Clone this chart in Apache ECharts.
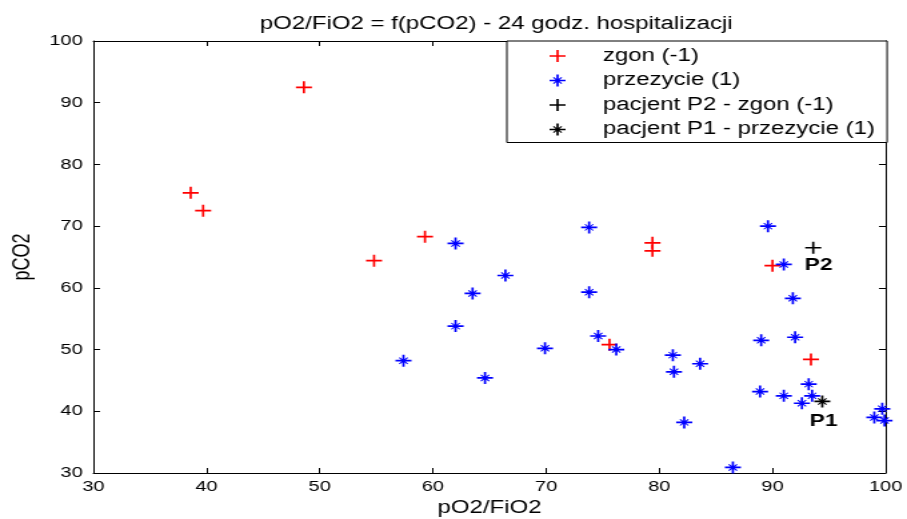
<!DOCTYPE html>
<html><head><meta charset="utf-8">
<script src="https://cdn.jsdelivr.net/npm/echarts@6/dist/echarts.min.js"></script>
<style>
html,body{margin:0;padding:0;background:#fff;overflow:hidden;}
#wrap{width:907px;height:519px;overflow:hidden;}
#chart{width:680px;height:519px;transform:scaleX(1.33382);transform-origin:0 0;}
</style></head><body><div id="wrap"><div id="chart"></div></div>
<script>
// ---- data ----
const axisTicks = [30, 40, 50, 60, 70, 80, 90, 100];
const zgonX = [48.6, 38.6, 39.7, 54.8, 59.3, 79.4, 79.4, 75.6, 90.0, 93.4];
const zgonY = [92.5, 75.4, 72.5, 64.4, 68.3, 67.3, 66.0, 50.8, 63.6, 48.4];
const przezycieX = [62.0, 73.8, 89.6, 66.4, 63.5, 73.8, 91.0, 91.8, 62.0, 74.6, 69.9, 76.2, 92.0, 89.0, 57.4,
                    81.2, 81.3, 83.6, 64.6, 93.2, 88.9, 91.0, 93.5, 92.6, 82.2, 86.5, 99.7, 99.0, 99.9];
const przezycieY = [67.2, 69.8, 70.0, 62.0, 59.1, 59.3, 63.8, 58.3, 53.8, 52.2, 50.2, 50.0, 52.0, 51.5, 48.2,
                    49.1, 46.4, 47.7, 45.4, 44.4, 43.2, 42.5, 42.5, 41.3, 38.2, 30.9, 40.4, 39.0, 38.5];
const p2X = [93.6], p2Y = [66.5];
const p1X = [94.4], p1Y = [41.6];
const seriesNames = ['zgon (-1)', 'przezycie (1)', 'pacjent P2 - zgon (-1)', 'pacjent P1 - przezycie (1)'];
const titleText = 'pO2/FiO2 = f(pCO2) - 24 godz. hospitalizacji';
const xName = 'pO2/FiO2', yName = 'pCO2';

// ---- build ----
const pairs = (xs, ys) => xs.map((x, i) => [x, ys[i]]);
const PLUS = 'path://M0,43L100,43L100,57L0,57Z M43,0L57,0L57,100L43,100Z';
const STAR = 'path://M0,43L100,43L100,57L0,57Z M43,0L57,0L57,100L43,100Z ' +
             'M27,21L79,73L73,79L21,27Z M73,21L79,27L27,79L21,73Z';
const FONT = 'Liberation Sans, Arial, sans-serif';
const tmin = axisTicks[0], tmax = axisTicks[axisTicks.length - 1], tint = axisTicks[1] - axisTicks[0];

const chart = echarts.init(document.getElementById('chart'), null, {renderer: 'canvas'});
const axisCommon = {
  type: 'value', min: tmin, max: tmax, interval: tint,
  splitLine: {show: false},
  axisLine: {show: true, onZero: false, lineStyle: {color: '#000', width: 1}},
  axisTick: {show: true, inside: true, length: 5, lineStyle: {color: '#000'}},
};
chart.setOption({
  animation: false,
  backgroundColor: '#fff',
  textStyle: {fontFamily: FONT},
  title: {
    text: titleText, left: 367, top: 10, textAlign: 'center',
    textStyle: {fontSize: 18, fontWeight: 'normal', color: '#000', fontFamily: FONT}
  },
  grid: {left: 70, right: 16, top: 41, bottom: 46, containLabel: false, outerBoundsMode: 'none'},
  legend: {
    data: seriesNames, orient: 'vertical', left: 380, top: 41,
    padding: [6, 9, 4, 32], itemGap: 6.5, itemWidth: 12, itemHeight: 12,
    backgroundColor: '#fff', borderColor: '#000', borderWidth: 1, borderRadius: 0,
    textStyle: {fontSize: 18, color: '#000', fontFamily: FONT, lineHeight: 18, padding: [0, 0, 0, 23]},
    selectedMode: false
  },
  xAxis: [
    Object.assign({}, axisCommon, {
      position: 'bottom', name: xName, nameLocation: 'middle', nameGap: 24,
      nameTextStyle: {fontSize: 18, color: '#000', fontFamily: FONT},
      axisLabel: {fontSize: 15, color: '#000', margin: 6, fontFamily: FONT}
    }),
    Object.assign({}, axisCommon, {position: 'top', axisLabel: {show: false}})
  ],
  yAxis: [
    Object.assign({}, axisCommon, {
      position: 'left', name: yName, nameLocation: 'middle', nameGap: 42,
      nameTextStyle: {fontSize: 18, color: '#000', fontFamily: FONT},
      axisLabel: {fontSize: 15, color: '#000', margin: 8, fontFamily: FONT}
    }),
    Object.assign({}, axisCommon, {position: 'right', axisLabel: {show: false}})
  ],
  series: [
    {name: seriesNames[0], type: 'scatter', data: pairs(zgonX, zgonY), symbol: PLUS, symbolSize: 12,
     itemStyle: {color: '#ff0000', opacity: 1}},
    {name: seriesNames[1], type: 'scatter', data: pairs(przezycieX, przezycieY), symbol: STAR, symbolSize: 12,
     itemStyle: {color: '#0000ff', opacity: 1}},
    {name: seriesNames[2], type: 'scatter', data: pairs(p2X, p2Y), symbol: PLUS, symbolSize: 12,
     itemStyle: {color: '#000000', opacity: 1},
     label: {show: true, formatter: 'P2', position: 'inside', offset: [4, 18], fontSize: 17, fontWeight: 'bold',
             color: '#000', fontFamily: FONT}},
    {name: seriesNames[3], type: 'scatter', data: pairs(p1X, p1Y), symbol: STAR, symbolSize: 12,
     itemStyle: {color: '#000000', opacity: 1},
     label: {show: true, formatter: 'P1', position: 'inside', offset: [1, 20], fontSize: 17, fontWeight: 'bold',
             color: '#000', fontFamily: FONT}}
  ]
});
</script></body></html>
